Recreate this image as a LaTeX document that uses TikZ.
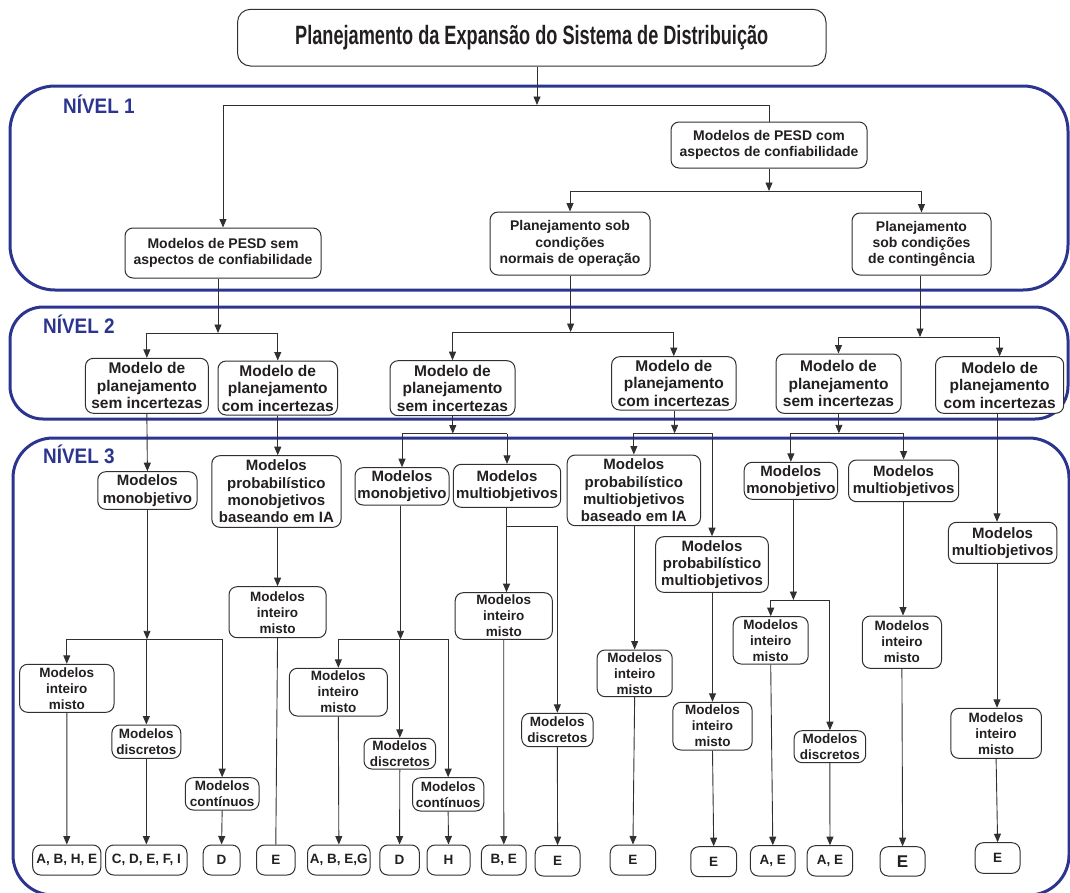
\documentclass[tikz,border=0pt]{standalone}
\usepackage{fontspec}
\usepackage{graphicx}
\setmainfont{Liberation Sans}
\usetikzlibrary{arrows.meta}

\definecolor{ink}{HTML}{231F20}
\definecolor{wire}{HTML}{303030}
\definecolor{frameblue}{HTML}{2B3590}

% box from its corners: name, style, x1, y1, x2, y2, text
\newcommand\mkbox[7]{%
  \node[#2, minimum width={(#5)-(#3)}, minimum height={(#6)-(#4)}]
    (#1) at ({((#3)+(#5))/2},{((#4)+(#6))/2}) {#7};}

\tikzset{
  every node/.style={text=ink},
  box/.style={draw=wire, line width=1pt, rounded corners=8pt, fill=white,
    align=center, inner sep=0.5pt},
  ttlbox/.style={box, rounded corners=13pt},
  lvA/.style={box, font=\fontsize{14}{16.3}\selectfont\bfseries},
  lvB/.style={box, font=\fontsize{15.5}{17.5}\selectfont\bfseries},
  lvC/.style={box, font=\fontsize{15}{17.3}\selectfont\bfseries},
  lvD/.style={box, font=\fontsize{13.5}{16}\selectfont\bfseries},
  leaf/.style={box, font=\fontsize{13.5}{16}\selectfont\bfseries},
  bigleaf/.style={leaf, font=\fontsize{17}{18}\selectfont\bfseries},
  ln/.style={draw=wire, line width=0.9pt},
  arr/.style={ln, -{Triangle[length=8.5pt,width=7pt]}},
  frame/.style={draw=frameblue, line width=3pt},
  lvl/.style={text=frameblue, font=\fontsize{21}{21}\selectfont\bfseries,
    anchor=base west, inner sep=0pt},
}

\begin{document}
\begin{tikzpicture}[x=1pt, y=-1pt]
\useasboundingbox (0,0) rectangle (1070,892);

% level frames
\draw[frame, rounded corners=45pt] (10,86) rectangle (1068,290);
\draw[frame, rounded corners=33pt] (10,307) rectangle (1068,419);
\draw[frame, rounded corners=40pt] (13,438) rectangle (1069,895);

\node[lvl] (n1) at (63,113) {\scalebox{0.9}[1]{NÍVEL 1}};
\node[lvl] (n2) at (43,333) {\scalebox{0.9}[1]{NÍVEL 2}};
\node[lvl] (n3) at (43,463) {\scalebox{0.9}[1]{NÍVEL 3}};

% title
\mkbox{ttl}{ttlbox}{237.5}{9.3}{826}{66}{\scalebox{0.685}[1]{\fontsize{26.5}{30}\selectfont\bfseries Planejamento da Expansão do Sistema de Distribuição}}

% level 1
\mkbox{semA}{lvA}{125}{228}{321}{278}{Modelos de PESD sem\\aspectos de confiabilidade}
\mkbox{comA}{lvA}{671}{122}{867}{168}{Modelos de PESD com\\aspectos de confiabilidade}
\mkbox{normal}{lvA}{490}{212}{650}{275}{Planejamento sob\\condições\\normais de operação}
\mkbox{conting}{lvA}{852}{213}{991}{275}{Planejamento\\sob condições\\de contingência}

% level 2
\mkbox{Ba}{lvB}{85.4}{358.3}{208.3}{413.3}{Modelo de\\planejamento\\sem incertezas}
\mkbox{Bb}{lvB}{218}{361}{337.5}{415}{Modelo de\\planejamento\\com incertezas}
\mkbox{Bc}{lvB}{390}{360.7}{515}{415.7}{Modelo de\\planejamento\\sem incertezas}
\mkbox{Bd}{lvB}{611.6}{356.7}{736}{410}{Modelo de\\planejamento\\com incertezas}
\mkbox{Be}{lvB}{776}{354}{901}{413.3}{Modelo de\\planejamento\\sem incertezas}
\mkbox{Bf}{lvB}{935.6}{356.7}{1063.7}{413.3}{Modelo de\\planejamento\\com incertezas}

% level 3
\mkbox{Ca}{lvC}{97.8}{471.7}{197}{509.3}{Modelos\\monobjetivo}
\mkbox{Cb}{lvC}{211.8}{455.7}{341}{527.3}{Modelos\\probabilístico\\monobjetivos\\baseando em IA}
\mkbox{Cc}{lvC}{355}{467.7}{449}{505}{Modelos\\monobjetivo}
\mkbox{Cd}{lvC}{453.3}{464.3}{560.7}{507.3}{Modelos\\multiobjetivos}
\mkbox{Ce}{lvC}{567.2}{455}{700.5}{525.7}{Modelos\\probabilístico\\multiobjetivos\\baseado em IA}
\mkbox{Cf}{lvC}{655.7}{536.7}{768.3}{592.3}{Modelos\\probabilístico\\multiobjetivos}
\mkbox{Cg}{lvC}{744.2}{462.3}{837.5}{499.3}{Modelos\\monobjetivo}
\mkbox{Ch}{lvC}{848.5}{460}{958.7}{501.7}{Modelos\\multiobjetivos}
\mkbox{Ci}{lvC}{948.4}{522.3}{1056.9}{563.3}{Modelos\\multiobjetivos}

% model types
\mkbox{Da}{lvD}{19.6}{664.3}{114}{712.3}{Modelos\\inteiro\\misto}
\mkbox{Db}{lvD}{111.9}{725}{180.8}{758.3}{Modelos\\discretos}
\mkbox{Dc}{lvD}{185.3}{777.7}{259}{810}{Modelos\\contínuos}
\mkbox{Dd}{lvD}{229}{586.7}{326.1}{637.7}{Modelos\\inteiro\\misto}
\mkbox{De}{lvD}{289.3}{668.3}{387.4}{716}{Modelos\\inteiro\\misto}
\mkbox{Df}{lvD}{364}{738.3}{435.6}{769}{Modelos\\discretos}
\mkbox{Dg}{lvD}{412.5}{777.7}{483.8}{811}{Modelos\\contínuos}
\mkbox{Dh}{lvD}{455.2}{592.7}{552.3}{639.3}{Modelos\\inteiro\\misto}
\mkbox{Di}{lvD}{521.7}{713.3}{593}{746.7}{Modelos\\discretos}
\mkbox{Dj}{lvD}{597.1}{650}{672.2}{696.7}{Modelos\\inteiro\\misto}
\mkbox{Dk}{lvD}{672.9}{702.3}{752.1}{750}{Modelos\\inteiro\\misto}
\mkbox{Dl}{lvD}{733.2}{616.7}{808.2}{664}{Modelos\\inteiro\\misto}
\mkbox{Dm}{lvD}{794.1}{730.7}{865.7}{762.7}{Modelos\\discretos}
\mkbox{Dn}{lvD}{862.3}{616}{941.5}{668.3}{Modelos\\inteiro\\misto}
\mkbox{Do}{lvD}{950.8}{708.3}{1041.4}{758.3}{Modelos\\inteiro\\misto}

% references
\mkbox{Ea}{leaf}{32.7}{845}{100.9}{875}{A, B, H, E}
\mkbox{Eb}{leaf}{105.7}{845}{187}{875}{C, D, E, F, I}
\mkbox{Ec}{leaf}{203.2}{845}{240}{875}{D}
\mkbox{Ed}{leaf}{256.5}{845}{295.1}{875}{E}
\mkbox{Ee}{leaf}{307.5}{845}{370.2}{875}{A, B, E,G}
\mkbox{Ef}{leaf}{379.8}{845}{419.4}{875}{D}
\mkbox{Eg}{leaf}{427}{845}{470}{875}{H}
\mkbox{Eh}{leaf}{481.4}{845}{526.2}{875}{B, E}
\mkbox{Ei}{leaf}{535.2}{845.7}{580}{876}{E}
\mkbox{Ej}{leaf}{610.2}{845}{655.7}{875}{E}
\mkbox{Ek}{leaf}{690.8}{846.7}{736.6}{876.7}{E}
\mkbox{El}{leaf}{750.4}{845.7}{795.2}{876}{A, E}
\mkbox{Em}{leaf}{807.2}{845.7}{852.7}{876}{A, E}
\mkbox{En}{bigleaf}{880.2}{846.7}{925}{876}{E}
\mkbox{Eo}{leaf}{975.2}{842.7}{1020}{873.3}{E}

% ---- connectors: level 1
\coordinate (jT) at (537,105);
\draw[arr] (ttl.south -| jT) -- (jT);
\draw[ln] (jT -| semA.north) -- (jT -| comA.north) -- (comA.north);
\draw[arr] (jT -| semA.north) -- (semA.north);
\coordinate (jC) at (769,191);
\draw[arr] (comA.south) -- (jC);
\draw[ln] (jC -| normal.north) -- (jC -| conting.north);
\draw[arr] (jC -| normal.north) -- (normal.north);
\draw[arr] (jC -| conting.north) -- (conting.north);

% ---- connectors: level 2
\coordinate (jS) at (218,333);
\draw[arr] (semA.south -| jS) -- (jS);
\draw[ln] (jS -| Ba.north) -- (jS -| Bb.north);
\draw[arr] (jS -| Ba.north) -- (Ba.north);
\draw[arr] (jS -| Bb.north) -- (Bb.north);
\coordinate (jN) at (570.6,332);
\draw[arr] (normal.south -| jN) -- (jN);
\draw[ln] (jN -| Bc.north) -- (jN -| Bd.north);
\draw[arr] (jN -| Bc.north) -- (Bc.north);
\draw[arr] (jN -| Bd.north) -- (Bd.north);
\coordinate (jG) at (920,337);
\draw[arr] (conting.south -| jG) -- (jG);
\draw[ln] (jG -| Be.north) -- (jG -| Bf.north);
\draw[arr] (jG -| Be.north) -- (Be.north);
\draw[arr] (jG -| Bf.north) -- (Bf.north);

% ---- connectors: level 3
\draw[arr] (Ba.south) -- (Ca.north);
\draw[arr] (Bb.south) -- (Bb.south |- Cb.north);
\coordinate (jc) at (452.8,433.5);
\draw[arr] (Bc.south -| jc) -- (jc);
\draw[ln] (jc -| Cc.north) -- (jc -| Cd.north);
\draw[arr] (jc -| Cc.north) -- (Cc.north);
\draw[arr] (jc -| Cd.north) -- (Cd.north);
\coordinate (jd) at (674.6,433.3);
\draw[arr] (Bd.south -| jd) -- (jd);
\draw[ln] (jd -| Ce.north) -- (jd -| Cf.north);
\draw[arr] (jd -| Ce.north) -- (Ce.north);
\draw[arr] (jd -| Cf.north) -- (Cf.north);
\coordinate (je) at (838.9,433.3);
\draw[arr] (Be.south -| je) -- (je);
\draw[ln] (je -| Cg.north) -- (je -| Ch.north);
\draw[arr] (je -| Cg.north) -- (Cg.north);
\draw[arr] (je -| Ch.north) -- (Ch.north);
\coordinate (xf) at (997,0);
\draw[arr] (Bf.south -| xf) -- (Ci.north -| xf);

% ---- connectors: model types
\coordinate (ja) at (147,639.3);
\draw[arr] (Ca.south -| ja) -- (ja);
\draw[ln] (ja -| Da.north) -- (ja -| Dc.north);
\draw[arr] (ja -| Da.north) -- (Da.north);
\draw[arr] (ja -| Db.north) -- (Db.north);
\draw[arr] (ja -| Dc.north) -- (Dc.north);
\draw[arr] (Cb.south -| Dd.north) -- (Dd.north);
\coordinate (jcc) at (400.5,639.3);
\draw[arr] (Cc.south -| jcc) -- (jcc);
\draw[ln] (jcc -| De.north) -- (jcc -| Dg.north);
\draw[arr] (jcc -| De.north) -- (De.north);
\draw[arr] (jcc -| Df.north) -- (Df.north);
\draw[arr] (jcc -| Dg.north) -- (Dg.north);
\coordinate (xd) at (506.5,526);
\draw[arr] (Cd.south -| xd) -- (Dh.north -| xd);
\draw[ln] (xd) -- (xd -| Di.north);
\draw[arr] (xd -| Di.north) -- (Di.north);
\draw[arr] (Ce.south -| Dj.north) -- (Dj.north);
\draw[arr] (Cf.south -| Dk.north) -- (Dk.north);
\coordinate (jg) at (793.4,600);
\draw[arr] (Cg.south -| jg) -- (jg);
\draw[ln] (jg -| Dl.north) -- (jg -| Dm.north);
\draw[arr] (jg -| Dl.north) -- (Dl.north);
\draw[arr] (jg -| Dm.north) -- (Dm.north);
\coordinate (xh) at (903,0);
\draw[arr] (Ch.south -| xh) -- (Dn.north -| xh);
\draw[arr] (Ci.south -| xf) -- (Do.north -| xf);

% ---- connectors: references
\draw[arr] (Da.south) -- (Ea.north);
\draw[arr] (Db.south) -- (Eb.north);
\draw[arr] (Dc.south) -- (Ec.north);
\draw[ln]  (Dd.south) -- (Ed.north);
\draw[arr] (De.south) -- (Ee.north);
\draw[arr] (Df.south) -- (Ef.north);
\draw[arr] (Dg.south) -- (Eg.north);
\draw[arr] (Dh.south) -- (Eh.north);
\draw[arr] (Di.south) -- (Ei.north);
\draw[arr] (Dj.south) -- (Ej.north);
\draw[arr] (Dk.south) -- (Ek.north);
\draw[arr] (Dl.south) -- (El.north);
\draw[arr] (Dm.south) -- (Em.north);
\draw[arr] (Dn.south) -- (En.north);
\draw[arr] (Do.south) -- (Eo.north);
\end{tikzpicture}
\end{document}
